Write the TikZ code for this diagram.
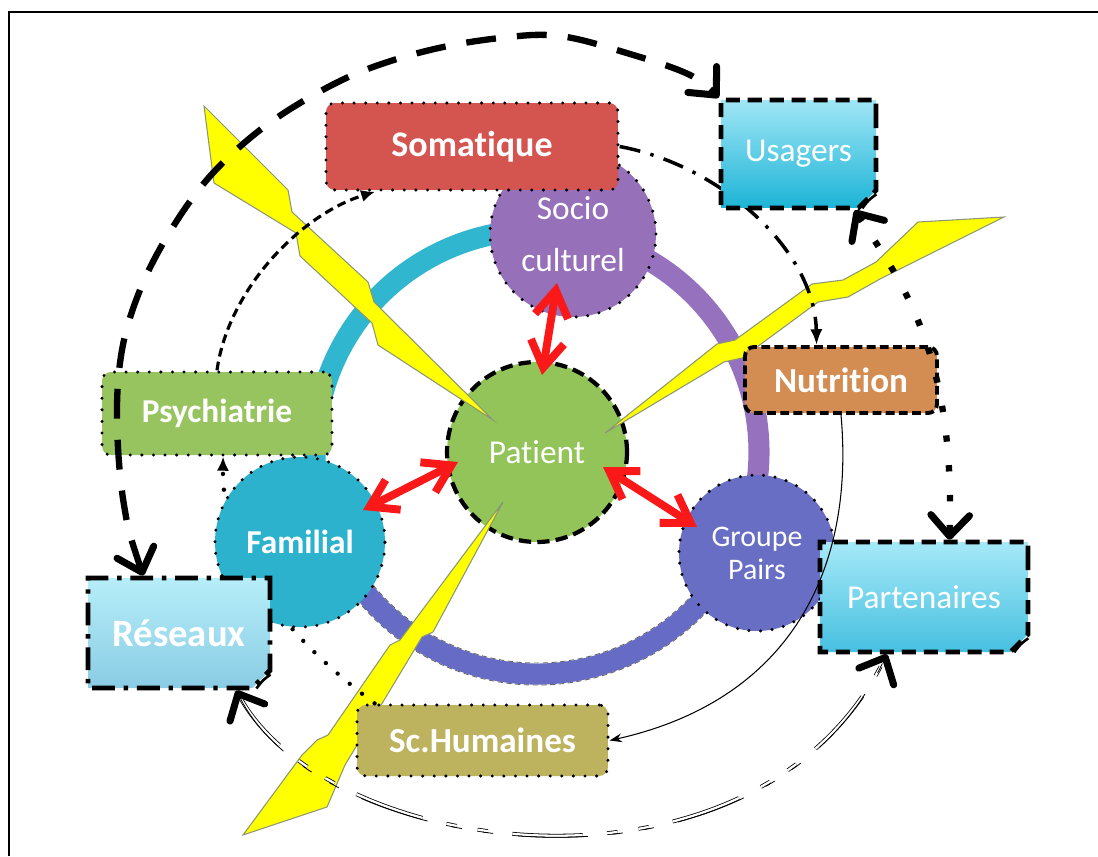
\documentclass[tikz,border=0pt]{standalone}
\usepackage{fontspec}
\setmainfont{Carlito}[Ligatures=NoCommon]
\usepackage{tikz}
\usetikzlibrary{arrows.meta, calc, shapes.misc}
\definecolor{soma-red}{RGB}{212,84,80}
\definecolor{psy-green}{RGB}{152,196,96}
\definecolor{nutri-brown}{RGB}{211,141,82}
\definecolor{hum-khaki}{RGB}{189,178,94}
\definecolor{socio-purple}{RGB}{150,112,184}
\definecolor{patient-green}{RGB}{147,196,90}
\definecolor{fam-teal}{RGB}{44,178,204}
\definecolor{pairs-blue}{RGB}{104,110,196}
\definecolor{ring-teal}{RGB}{48,182,206}
\definecolor{ring-purple}{RGB}{150,114,190}
\definecolor{ring-blue}{RGB}{102,108,198}
\definecolor{usa-top}{RGB}{160,230,246}
\definecolor{usa-bot}{RGB}{28,180,214}
\definecolor{part-top}{RGB}{166,233,248}
\definecolor{part-bot}{RGB}{70,192,224}
\definecolor{res-top}{RGB}{182,238,249}
\definecolor{res-bot}{RGB}{138,204,228}
\definecolor{bolt-yellow}{RGB}{255,255,0}
\definecolor{bolt-edge}{RGB}{138,150,118}
\definecolor{link-red}{RGB}{250,24,24}
\tikzset{
    bigv/.tip = {Straight Barb[length=12pt, width=22pt, line width=4pt, round]},
    redv/.tip = {Straight Barb[length=15pt, width=19pt, line width=4.5pt]},
    circ/.style = {circle, inner sep=0pt, align=center, text=white,
        font=\fontsize{19}{29.5}\selectfont},
    box/.style = {rectangle, rounded corners=5pt, inner sep=0pt, text=white,
        font=\fontsize{20}{24}\selectfont\bfseries},
    fold/.style = {chamfered rectangle, chamfered rectangle corners=south east,
        chamfered rectangle xsep=5pt, chamfered rectangle ysep=5pt,
        inner sep=0pt, text=white, font=\fontsize{19}{23}\selectfont},
    dotborder/.style = {draw=black, line width=1.9pt, dash pattern=on 0pt off 6.6pt, line cap=round},
    dashborder/.style = {draw=black, line width=2.4pt, dash pattern=on 7pt off 3.5pt},
    folddash/.style = {draw=black, line width=2.6pt, dash pattern=on 8pt off 4.5pt},
    folddashdot/.style = {draw=black, line width=2.8pt, dash pattern=on 13pt off 5pt on 2.5pt off 5pt},
    ring/.style = {line width=12pt},
    ring edge/.style = {black!60, line width=0.5pt, densely dashed},
    bolt/.style = {fill=bolt-yellow, draw=bolt-edge, line width=0.6pt},
    red link/.style = {link-red, line width=4.5pt, {redv}-{redv}},
    big dash/.style = {line width=3.6pt, dash pattern=on 17pt off 12pt, {bigv}-{bigv}},
    big dots/.style = {line width=3.6pt, dash pattern=on 3.6pt off 13.4pt, {bigv}-{bigv}},
    dash line/.style = {line width=1.8pt, dash pattern=on 5pt off 3pt, -{Latex[length=8pt, width=7pt]}},
    dash dot line/.style = {line width=2pt, dash pattern=on 12pt off 6pt on 2pt off 6pt,
        -{Latex[length=9pt, width=7pt]}},
    dot line/.style = {line width=2.5pt, dash pattern=on 0pt off 9pt, line cap=round,
        -{Latex[length=8pt, width=7pt]}},
    thin arc/.style = {line width=0.6pt, -{Stealth[length=7pt, width=5pt]}},
    triple/.style = {line width=0.45pt, double distance=1.3pt,
        dash pattern=on 40pt off 14pt on 6pt off 12pt on 6pt off 14pt},
    triple core/.style = {line width=0.45pt,
        dash pattern=on 40pt off 14pt on 6pt off 12pt on 6pt off 14pt, {bigv}-{bigv}}
}
\begin{document}
\begin{tikzpicture}[x=0.02cm, y=-0.02cm]
\useasboundingbox (0,0) rectangle (1098,856);
\draw[line width=0.9pt] (9,856) |- (1098,12);

\coordinate (hub) at (537,452);

%ring
\draw[ring, ring-teal] (hub) ++(159:222) arc[start angle=159, end angle=279, radius=222];
\draw[ring, ring-purple] (hub) ++(279:222) arc[start angle=279, end angle=385, radius=222];
\draw[ring, ring-blue] (hub) ++(25:222) arc[start angle=25, end angle=159, radius=222];
\foreach \r in {211,233}
    \draw[ring edge] (hub) ++(25:\r) arc[start angle=25, end angle=159, radius=\r];

%circles
\node[circ, dashborder, fill=patient-green, minimum size=3.6cm] (patient) at (hub) {Patient};
\node[circ, dotborder, fill=socio-purple, minimum size=3.32cm] (socio) at (573,234) {Socio\\culturel};
\node[circ, dotborder, fill=pairs-blue, minimum size=3.12cm,
    font=\fontsize{17}{18.7}\selectfont] (groupe) at (757,553) {Groupe\\Pairs};

%bolts
\draw[bolt] (204,106) -- (288,190) -- (292,212) -- (368,282) -- (374,302) -- (493,420)
    -- (378,345) -- (372,323) -- (300,256) -- (296,233) -- (214,183) -- cycle;
\draw[bolt] (1004,217) -- (918,222) -- (876,262) -- (843,280) -- (812,284) -- (735,340)
    -- (717,344) -- (605,433) -- (724,362) -- (742,358) -- (818,302) -- (848,297)
    -- (880,279) -- cycle;
\draw[bolt] (503,502) -- (433,632) -- (422,637) -- (345,765) -- (327,807) -- (243,835)
    -- (302,755) -- (317,740) -- (328,735) -- (390,645) -- (400,640) -- cycle;

%boxes
\node[box, dotborder, fill=psy-green, minimum width=4.6cm, minimum height=1.66cm,
    font=\fontsize{19}{23}\selectfont\bfseries] (psychiatrie) at (217,413.5) {Psychiatrie};
\node[box, dotborder, fill=hum-khaki, minimum width=5.02cm, minimum height=1.42cm] (schum) at (482.5,740.5) {Sc.Humaines};
\draw[dot line] (schum.161) .. controls (290,640) and (222,560) .. (psychiatrie.-82);
\node[circ, dotborder, fill=fam-teal, minimum size=3.4cm,
    font=\fontsize{19}{23}\selectfont\bfseries] (familial) at (300,542) {Familial};
\node[fold, folddashdot, top color=res-top, bottom color=res-bot, minimum width=3.64cm,
    minimum height=2.2cm, font=\fontsize{22}{27}\selectfont\bfseries] (reseaux) at (179,633) {Réseaux};
\node[box, dotborder, fill=soma-red, minimum width=5.84cm, minimum height=1.74cm,
    font=\fontsize{20.5}{24}\selectfont\bfseries] (somatique) at (472,146.5) {Somatique};
\node[box, dashborder, line width=2.2pt, dash pattern=on 5pt off 2.5pt, fill=nutri-brown,
    minimum width=3.84cm, minimum height=1.32cm] (nutrition) at (841,380) {Nutrition};
\draw[dash dot line] (somatique.east) .. controls (720,165) and (815,250) .. (nutrition.125);
\node[fold, folddash, top color=usa-top, bottom color=usa-bot, minimum width=3.1cm,
    minimum height=2.16cm] (usagers) at (798.5,154) {Usagers};
\node[fold, folddash, top color=part-top, bottom color=part-bot, minimum width=4.16cm,
    minimum height=2.2cm] (partenaires) at (924,597) {Partenaires};

%folded corners
\foreach \n in {usagers, partenaires, reseaux}
    \draw[line width=1.5pt] ($(\n.south -| \n.east)+(-16,-2)$)
        .. controls ($(\n.south -| \n.east)+(-10,-10)$) .. ($(\n.south -| \n.east)+(-2,-16)$);

%links
\draw[dash line] (psychiatrie.north) .. controls (228,290) and (300,215) .. (somatique.205);
\draw[thin arc] (nutrition.south) .. controls (855,570) and (790,700) .. (schum.east);
\draw[big dots] (usagers.-45) .. controls (900,280) and (955,350) .. (partenaires.66);
\draw[big dash] plot[smooth, tension=0.6] coordinates {(reseaux.122) (124,505) (117,420)
    (122,350) (140,290) (168,235) (205,182) (250,138) (300,103) (360,72) (430,50)
    (500,38) (560,36) (630,54) (690,75) (usagers.north -| usagers.west)};
\draw[triple] (reseaux.-45) .. controls (320,860) and (760,920) .. (partenaires.-123);
\draw[triple core] (reseaux.-45) .. controls (320,860) and (760,920) .. (partenaires.-123);

%red arrows
\draw[red link] ($(socio)+(-16,49)$) -- ($(patient)+(5,-77)$);
\draw[red link] ($(familial)+(63,-32)$) -- ($(patient)+(-79,10)$);
\draw[red link] ($(patient)+(66,15)$) -- ($(groupe)+(-60,-26)$);
\end{tikzpicture}
\end{document}
